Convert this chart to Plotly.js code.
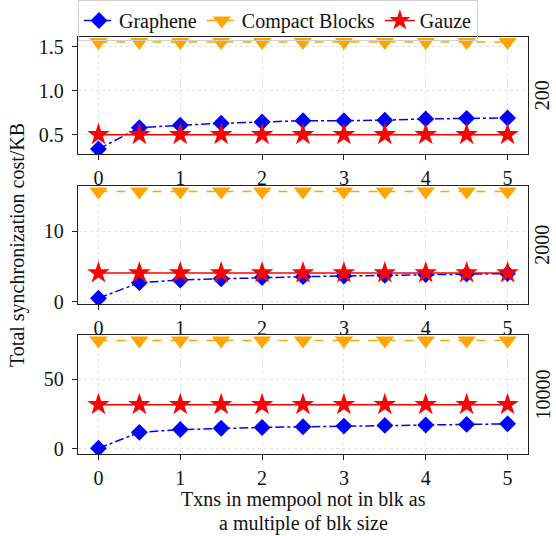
<!DOCTYPE html>
<html>
<head>
<meta charset="utf-8">
<script src="https://cdn.plot.ly/plotly-3.0.1.min.js"></script>
<style>html,body{margin:0;padding:0;background:#fff;}#chart{width:556px;height:536px;}</style>
</head>
<body>
<div id="chart"></div>
<script>
// Data
const xVals = [0, 0.5, 1, 1.5, 2, 2.5, 3, 3.5, 4, 4.5, 5];
const seriesNames = ["Graphene", "Compact Blocks", "Gauze"];
const panelLabels = ["200", "2000", "10000"];
const xTitleLines = ["Txns in mempool not in blk as", "a multiple of blk size"];
const yTitle = "Total synchronization cost/KB";

const graphene200   = [0.337, 0.58, 0.607, 0.63, 0.644, 0.66, 0.66, 0.665, 0.68, 0.686, 0.69];
const compact200    = [1.555, 1.555, 1.555, 1.555, 1.555, 1.555, 1.555, 1.555, 1.555, 1.555, 1.555];
const gauze200      = [0.5, 0.5, 0.5, 0.5, 0.5, 0.5, 0.5, 0.5, 0.5, 0.5, 0.5];

const graphene2000  = [0.48, 2.69, 3.07, 3.25, 3.42, 3.54, 3.63, 3.73, 3.82, 3.9, 3.98];
const compact2000   = [15.6, 15.6, 15.6, 15.6, 15.6, 15.6, 15.6, 15.6, 15.6, 15.6, 15.6];
const gauze2000     = [4.06, 4.06, 4.06, 4.06, 4.06, 4.06, 4.06, 4.06, 4.06, 4.06, 4.06];

const graphene10000 = [0.3, 11.8, 13.8, 14.7, 15.3, 15.8, 16.3, 16.8, 17.1, 17.5, 17.9];
const compact10000  = [77.9, 77.9, 77.9, 77.9, 77.9, 77.9, 77.9, 77.9, 77.9, 77.9, 77.9];
const gauze10000    = [31.7, 31.7, 31.7, 31.7, 31.7, 31.7, 31.7, 31.7, 31.7, 31.7, 31.7];

const xTicks = [0, 1, 2, 3, 4, 5];
const yTicks1 = [0.5, 1.0, 1.5];
const yTicks2 = [0, 10];
const yTicks3 = [0, 50];

const FONT = '"Liberation Serif", "Times New Roman", Times, serif';
const styles = [
  {color: "#0000ff", dash: "dashdot", symbol: "diamond", size: 13},
  {color: "#ffa500", dash: "dash", symbol: "triangle-down", size: 16},
  {color: "#ff0000", dash: "solid", symbol: "star", size: 17}
];

const panels = [
  [graphene200, compact200, gauze200],
  [graphene2000, compact2000, gauze2000],
  [graphene10000, compact10000, gauze10000]
];

const traces = [];
panels.forEach((p, pi) => {
  p.forEach((ys, si) => {
    const st = styles[si];
    traces.push({
      x: xVals, y: ys, type: "scatter", mode: "lines+markers",
      name: seriesNames[si], showlegend: pi === 0,
      legendrank: si,
      xaxis: pi === 0 ? "x" : "x" + (pi + 1),
      yaxis: pi === 0 ? "y" : "y" + (pi + 1),
      line: {color: st.color, dash: st.dash, width: 1.5},
      marker: {color: st.color, symbol: st.symbol, size: st.size, line: {width: 0}}
    });
  });
});

// Plot area spans full height down to the bottom margin; panels placed via domains
const T = 0, B = 82, L = 78, R = 28;
const H = 536 - T - B;           // 454
const W = 556 - L - R;           // 450
function dom(top, bot) { return [(H - bot) / H, (H - top) / H]; }

function xax(anchor) {
  return {
    anchor: anchor, range: [-0.25, 5.25], tickvals: xTicks, ticktext: xTicks.map(String),
    ticks: "outside", ticklen: 5, tickwidth: 1, tickcolor: "#222",
    showline: true, linecolor: "#222", linewidth: 1.2, mirror: true,
    showgrid: true, gridcolor: "#e3e3e3", griddash: "dot", gridwidth: 1,
    zeroline: false, ticklabelstandoff: 1, automargin: false,
    tickfont: {family: FONT, size: 20, color: "#111"}
  };
}
function yax(anchor, domain, range, ticks, fmt) {
  return {
    anchor: anchor, domain: domain, range: range, tickvals: ticks,
    tickformat: fmt,
    ticks: "outside", ticklen: 5, tickwidth: 1, tickcolor: "#222",
    showline: true, linecolor: "#222", linewidth: 1.2, mirror: true,
    showgrid: true, gridcolor: "#e3e3e3", griddash: "dot", gridwidth: 1,
    zeroline: false, ticklabelstandoff: 4, automargin: false,
    tickfont: {family: FONT, size: 20, color: "#111"}
  };
}

const d1 = dom(36.7, 154), d2 = dom(185.7, 304), d3 = dom(335, 454);
const annFont = {family: FONT, size: 20, color: "#111"};
const rightX = 1 + (542 - (L + W)) / W;

const layout = {
  width: 556, height: 536,
  margin: {l: L, r: R, t: T, b: B, pad: 0},
  paper_bgcolor: "#fff", plot_bgcolor: "#fff",
  font: {family: FONT, size: 20, color: "#111"},
  showlegend: true,
  legend: {
    orientation: "h", x: 0, xanchor: "left",
    y: 1, yanchor: "top",
    bgcolor: "rgba(255,255,255,0)", bordercolor: "#d0d0d0", borderwidth: 1,
    font: {family: FONT, size: 20, color: "#111"},
    itemwidth: 30, tracegroupgap: 0
  },
  xaxis: xax("y"), xaxis2: xax("y2"), xaxis3: xax("y3"),
  yaxis: yax("x", d1, [0.281, 1.614], yTicks1, ".1f"),
  yaxis2: yax("x2", d2, [-0.33, 16.41], yTicks2, "d"),
  yaxis3: yax("x3", d3, [-3.8, 81.9], yTicks3, "d"),
  annotations: [
    {text: panelLabels[0], xref: "paper", yref: "paper", x: rightX, y: (d1[0] + d1[1]) / 2, textangle: -90, showarrow: false, xanchor: "center", yanchor: "middle", font: annFont},
    {text: panelLabels[1], xref: "paper", yref: "paper", x: rightX, y: (d2[0] + d2[1]) / 2, textangle: -90, showarrow: false, xanchor: "center", yanchor: "middle", font: annFont},
    {text: panelLabels[2], xref: "paper", yref: "paper", x: rightX, y: (d3[0] + d3[1]) / 2, textangle: -90, showarrow: false, xanchor: "center", yanchor: "middle", font: annFont},
    {text: yTitle, xref: "paper", yref: "paper", x: (17 - L) / W, y: (H - 245) / H, textangle: -90, showarrow: false, xanchor: "center", yanchor: "middle", font: annFont},
    {text: xTitleLines[0], xref: "paper", yref: "paper", x: 0.5, y: -(B - 24) / H, showarrow: false, xanchor: "center", yanchor: "bottom", borderpad: 0, font: annFont},
    {text: xTitleLines[1], xref: "paper", yref: "paper", x: 0.5, y: -B / H, showarrow: false, xanchor: "center", yanchor: "bottom", borderpad: 0, font: annFont}
  ]
};

Plotly.newPlot("chart", traces, layout, {displayModeBar: false, staticPlot: true});
</script>
</body>
</html>
